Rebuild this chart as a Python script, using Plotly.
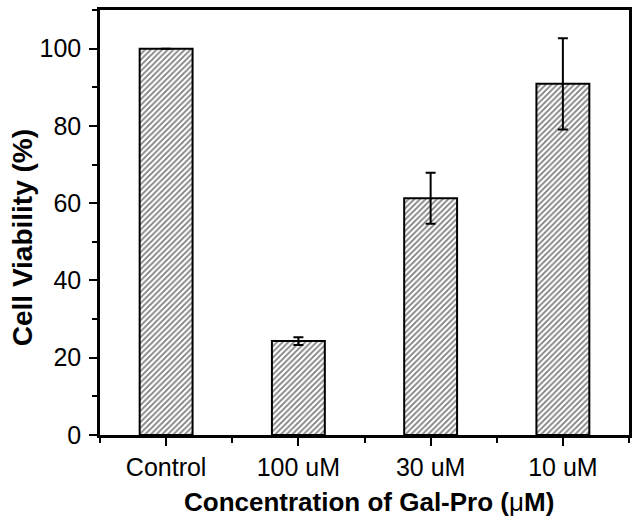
import plotly.graph_objects as go

categories = ["Control", "100 uM", "30 uM", "10 uM"]
viability = [100.0, 24.3, 61.3, 90.9]
errors = [0.0, 1.0, 6.6, 11.8]
y_ticks = [0, 20, 40, 60, 80, 100]

x_pos = list(range(len(categories)))

fig = go.Figure()
fig.add_trace(go.Bar(
    x=x_pos, y=viability, width=0.4,
    marker=dict(color="white", line=dict(color="black", width=2),
                pattern=dict(shape="/", fgcolor="black", bgcolor="white", size=4, solidity=0.45)),
    error_y=dict(type="data", array=errors, visible=True, color="black", thickness=2, width=5),
    showlegend=False,
))

font = "Liberation Sans, Arial, sans-serif"
fig.update_layout(
    width=639, height=524,
    margin=dict(l=100, r=10, t=10, b=89, autoexpand=False),
    paper_bgcolor="white", plot_bgcolor="white",
    font=dict(family=font, color="black"),
    xaxis=dict(
        range=[-0.5, 3.5], tickvals=x_pos, ticktext=categories,
        showline=True, mirror=True, linecolor="black", linewidth=2.5,
        ticks="outside", ticklen=8, tickwidth=2, tickcolor="black",
        minor=dict(tickvals=[-0.5, 0.5, 1.5, 2.5, 3.5], ticks="outside", ticklen=5, tickwidth=2, tickcolor="black"),
        showgrid=False, zeroline=False, automargin=False,
        tickfont=dict(size=25, family=font),
    ),
    yaxis=dict(
        range=[0, 110], tickvals=y_ticks,
        showline=True, mirror=True, linecolor="black", linewidth=2.5,
        ticks="outside", ticklen=8, tickwidth=2, tickcolor="black",
        minor=dict(dtick=10, tick0=0, ticks="outside", ticklen=5, tickwidth=2, tickcolor="black"),
        showgrid=False, zeroline=False, automargin=False,
        tickfont=dict(size=25, family=font),
        ticklabelstandoff=3,
    ),
    annotations=[
        dict(text="<b>Concentration of Gal-Pro (</b>μ<b>M)</b>", xref="paper", yref="paper",
             x=0.5085, y=-0.158, xanchor="center", yanchor="middle", showarrow=False,
             font=dict(size=26, family=font)),
        dict(text="<b>Cell Viability (%)</b>", xref="paper", yref="paper", textangle=-90,
             x=-0.147, y=0.4635, xanchor="center", yanchor="middle", showarrow=False,
             font=dict(size=28, family=font)),
    ],
)

fig.write_html("out.html", config={"displayModeBar": False},
               post_script="document.body.style.margin='0';document.body.style.overflow='hidden';")
